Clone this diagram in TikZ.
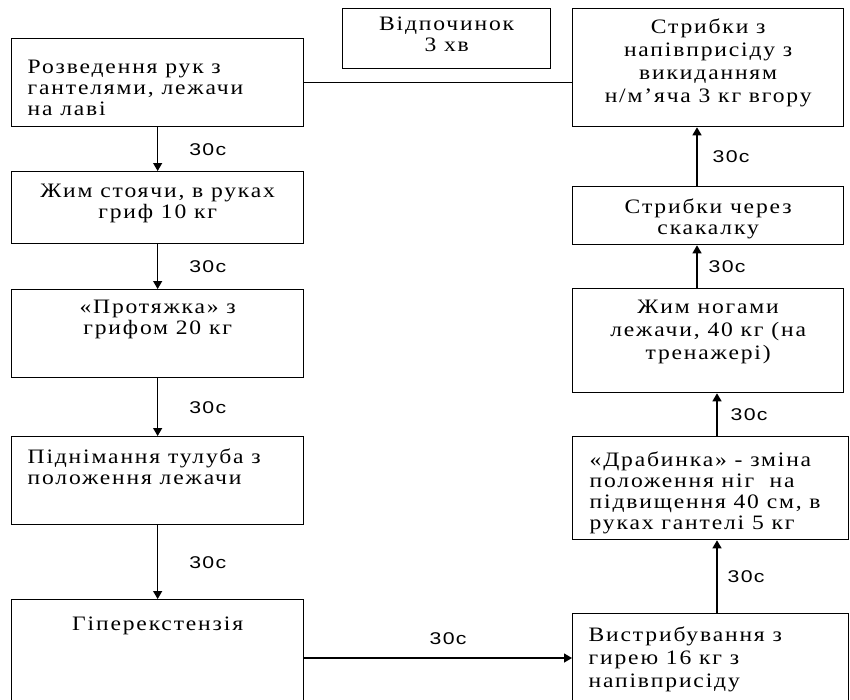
\documentclass[tikz,border=0pt]{standalone}
\usepackage{fontspec}
\setmainfont{Liberation Serif}[FakeStretch=1.15,LetterSpace=9]
\newfontfamily\labfont{Liberation Sans}[FakeStretch=1.25,LetterSpace=8]
\usetikzlibrary{arrows.meta,positioning}

\begin{document}
\begin{tikzpicture}[x=1pt,y=-1pt,line width=1.3pt,
		arr/.style={-{Triangle[length=8pt,width=9pt]}}]
	\tikzstyle{box}=[draw,anchor=north west,inner sep=0pt]
	\tikzstyle{txt}=[inner sep=0pt,font=\fontsize{20.5}{21}\selectfont]
	\tikzstyle{ctxt}=[txt,anchor=north,align=center]
	\tikzstyle{ltxt}=[txt,anchor=north west,align=left]
	\tikzstyle{lab}=[inner sep=0pt,font=\labfont\fontsize{17}{20}\selectfont]

	\useasboundingbox (0,0) rectangle (850,699);

	% Ліва колонка
	\node[box,minimum width=292pt,minimum height=88pt] (razv) at (11,38) {};
	\node[box,minimum width=292pt,minimum height=72pt] (zhym) at (11,171) {};
	\node[box,minimum width=292pt,minimum height=88pt] (prot) at (11,289) {};
	\node[box,minimum width=292pt,minimum height=88pt] (pidn) at (11,436) {};
	\node[box,minimum width=292pt,minimum height=150pt] (hiper) at (11,599) {};

	\node[ltxt] (razv-t) at ([xshift=16pt,yshift=-21pt]razv.north west) {Розведення рук з\\гантелями, лежачи\\на лаві};
	\node[ctxt] (zhym-t) at ([yshift=-12pt]zhym.north) {Жим стоячи, в руках\\гриф 10 кг};
	\node[ctxt] (prot-t) at ([yshift=-10pt]prot.north) {«Протяжка» з\\грифом 20 кг};
	\node[ltxt] (pidn-t) at ([xshift=16pt,yshift=-12pt]pidn.north west) {Піднімання тулуба з\\положення лежачи};
	\node[ctxt] (hiper-t) at ([yshift=-17pt]hiper.north) {Гіперекстензія};

	% Відпочинок
	\node[box,minimum width=208pt,minimum height=60pt] (vidp) at (342,8) {};
	\node[ctxt] (vidp-t) at ([yshift=-8pt]vidp.north) {Відпочинок\\3 хв};

	% Права колонка
	\node[box,minimum width=271pt,minimum height=118pt] (strybky) at (572,8) {};
	\node[box,minimum width=271pt,minimum height=58pt] (skak) at (572,186) {};
	\node[box,minimum width=271pt,minimum height=104pt] (zhnog) at (572,288) {};
	\node[box,minimum width=276pt,minimum height=103pt] (drab) at (572,436) {};
	\node[box,minimum width=276pt,minimum height=150pt] (vystr) at (572,613) {};

	\node[ctxt,font=\fontsize{20.5}{23}\selectfont] (strybky-t) at ([yshift=-10pt]strybky.north) {Стрибки з\\напівприсіду з\\викиданням\\н/м’яча 3 кг вгору};
	\node[ctxt] (skak-t) at ([yshift=-12pt]skak.north) {Стрибки через\\скакалку};
	\node[ctxt,font=\fontsize{20.5}{23}\selectfont] (zhnog-t) at ([yshift=-11pt]zhnog.north) {Жим ногами\\лежачи, 40 кг (на\\тренажері)};
	\node[ltxt] (drab-t) at ([xshift=17pt,yshift=-15pt]drab.north west) {«Драбинка» - зміна\\положення ніг\ \ на\\підвищення 40 см, в\\руках гантелі 5 кг};
	\node[ltxt,font=\fontsize{20.5}{23}\selectfont] (vystr-t) at ([xshift=16pt,yshift=-13pt]vystr.north west) {Вистрибування з\\гирею 16 кг з\\напівприсіду};

	% Переходи ліворуч
	\draw[arr] (razv) -- node[lab,right=31pt] {30с} (zhym);
	\draw[arr] (zhym) -- node[lab,right=31pt] {30с} (prot);
	\draw[arr] (prot) -- node[lab,right=31pt] {30с} (pidn);
	\draw[arr] (pidn) -- node[lab,right=31pt] {30с} (hiper);

	% Переходи праворуч
	\coordinate (hb) at ([yshift=-59pt]hiper.north east);
	\draw[arr] (hb) -- node[lab,above=13pt,xshift=10pt] {30с} (hb -| vystr.west);
	\draw[arr] ([xshift=145pt]vystr.north west) -- node[lab,right=10pt] {30с} ([xshift=145pt]drab.south west);
	\draw[arr] ([xshift=145pt]drab.north west) -- node[lab,right=13pt] {30с} ([xshift=145pt]zhnog.south west);
	\draw[arr] ([xshift=125pt]zhnog.north west) -- node[lab,right=11pt] {30с} ([xshift=125pt]skak.south west);
	\draw[arr] ([xshift=125pt]skak.north west) -- node[lab,right=15pt] {30с} ([xshift=125pt]strybky.south west);

	% Лінія до стрибків
	\draw (razv.east) -- (razv.east -| strybky.west);
\end{tikzpicture}
\end{document}
